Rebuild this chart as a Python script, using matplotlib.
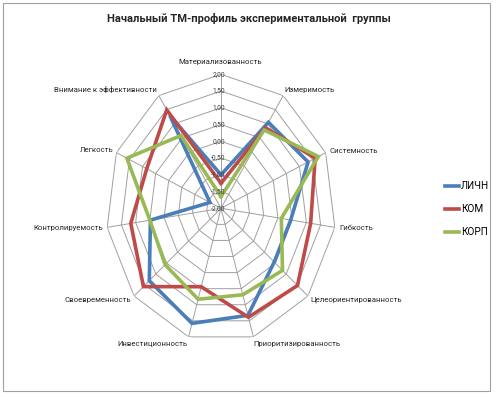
import numpy as np
import matplotlib
matplotlib.use("Agg")
import matplotlib.pyplot as plt
from matplotlib.patches import Rectangle

title = "Начальный ТМ-профиль экспериментальной  группы"
categories = ["Материализованность", "Измеримость", "Системность", "Гибкость",
              "Целеориентированность", "Приоритизированность", "Инвестиционность",
              "Своевременность", "Контролируемость", "Легкость",
              "Внимание к эффективности"]
series_names = ["ЛИЧН", "КОМ", "КОРП"]
lichn = [-1.0, 1.05, 1.33, 0.45, 0.45, 1.33, 1.58, 1.30, 0.48, -1.58, 1.29]
kom   = [-1.25, 0.86, 1.60, 1.15, 1.52, 1.39, 0.44, 1.57, 1.17, 0.84, 1.49]
korp  = [-1.65, 0.78, 1.72, 0.12, 0.83, 0.69, 0.83, 0.57, 0.50, 1.60, 0.58]
tick_values = [-2.0, -1.5, -1.0, -0.5, 0.0, 0.5, 1.0, 1.5, 2.0]
tick_labels = ["-2,00", "-1,50", "-1,00", "-0,50", "0,00", "0,50", "1,00", "1,50", "2,00"]

colors = ["#4A7EBB", "#BE4B48", "#98B954"]
FONT = ["Roboto", "DejaVu Sans"]

# label placement (offset pixels from outer vertex, alignment)
label_style = [((-1, 12), 'center'), ((1, 6), 'left'), ((4, 2), 'left'), ((5, -1), 'left'),
               ((2, -4), 'left'), ((0, -7), 'left'), ((-1, -7), 'right'), ((-3, -4), 'right'),
               ((-4, -1), 'right'), ((-3, 3), 'right'), ((-2, 6), 'right')]

W, H = 497, 395
fig = plt.figure(figsize=(W / 100, H / 100), dpi=100)
fig.patch.set_facecolor("white")
cx, cy, rx, ry = 221, 208.3, 115, 134
ax = fig.add_axes([(cx - rx) / W, (H - cy - ry) / H, 2 * rx / W, 2 * ry / H], projection='polar')
ax.set_aspect('auto')
ax.set_theta_zero_location('N')
ax.set_theta_direction(-1)
ax.set_ylim(-2, 2)
ax.grid(False)
ax.set_xticks([])
ax.set_yticks([])
ax.spines['polar'].set_visible(False)
ax.patch.set_alpha(0)

n = len(categories)
theta = np.arange(n) * 2 * np.pi / n
th_closed = np.append(theta, theta[0])

for v in tick_values[1:]:
    ax.plot(th_closed, [v] * (n + 1), color="#A0A0A0", lw=0.7, zorder=1)
for t in theta:
    ax.plot([t, t], [-2, 2], color="#A0A0A0", lw=0.7, zorder=1)

for vals, c, name in zip([lichn, kom, korp], colors, series_names):
    ax.plot(th_closed, list(vals) + [vals[0]], color=c, lw=2.6, label=name,
            solid_joinstyle='miter', zorder=3)

for v, lab in zip(tick_values, tick_labels):
    ax.annotate(lab, xy=(0, v), xytext=(4, 0), textcoords='offset pixels',
                ha='right', va='center', fontsize=4.9, family=FONT, color="#404040", zorder=4)

for t, lab, (off, ha) in zip(theta, categories, label_style):
    ax.annotate(lab, xy=(t, 2), xytext=off, textcoords='offset pixels',
                ha=ha, va='center', fontsize=5.6, family=FONT, color="#262626")

fig.text(248.5 / W, 1 - 19 / H, title, ha='center', va='center', fontsize=8.0,
         fontweight='bold', family=FONT, color="#262626")

leg = fig.legend(loc='center left', bbox_to_anchor=(436 / W, 1 - 209 / H), frameon=False,
                 handlelength=1.4, handletextpad=0.2, labelspacing=1.3,
                 prop={'family': FONT, 'size': 7.2})

fig.add_artist(Rectangle((3 / W, 4 / H), 487 / W, 388 / H, transform=fig.transFigure,
                         fill=False, edgecolor="#A0A0A0", lw=0.8))

fig.savefig("out.png", dpi=100)
